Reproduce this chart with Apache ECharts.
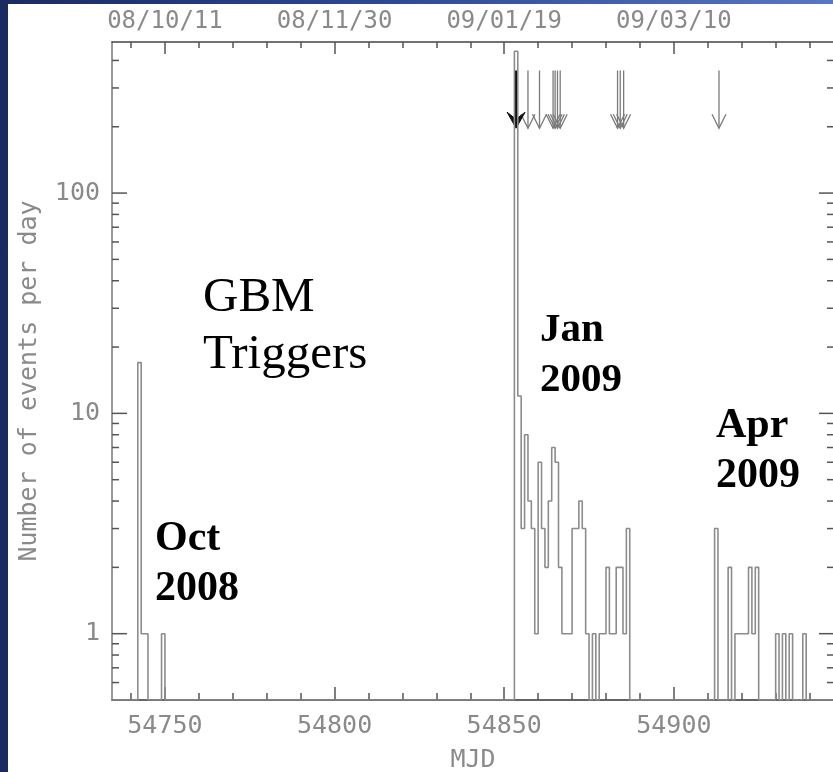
<!DOCTYPE html>
<html>
<head>
<meta charset="utf-8">
<script src="https://cdn.jsdelivr.net/npm/echarts@6/dist/echarts.min.js"></script>
<style>
  html, body { margin: 0; padding: 0; }
  body {
    width: 833px; height: 772px; position: relative; overflow: hidden;
    background: linear-gradient(90deg, #1b2a63 0%, #2c4792 45%, #5676c6 100%);
  }
  #paper { position: absolute; left: 8px; top: 4px; right: 0; bottom: 0; background: #fff; }
  #chart { position: absolute; left: 0; top: 0; width: 833px; height: 772px; }
</style>
</head>
<body>
<div id="paper"></div>
<div id="chart"></div>
<script>
// Daily GBM trigger counts: MJD of the day and number of events; days not listed had none.
const eventDays = [
  54742, 54743, 54744, 54749,
  54853, 54854, 54855, 54856, 54857, 54858, 54859, 54860, 54861, 54862,
  54863, 54864, 54865, 54866, 54867, 54868, 54869, 54870, 54871, 54872,
  54873, 54874, 54876, 54878, 54879, 54880, 54881, 54882, 54883,
  54884, 54885, 54886,
  54912, 54916, 54918, 54919, 54920, 54921, 54922, 54923, 54924,
  54930, 54932, 54934, 54938
];
const eventCounts = [
  17, 1, 1, 1,
  440, 12, 3, 8, 4, 3, 1, 6, 3, 2,
  4, 7, 6, 2, 1, 1, 1, 3, 3, 4,
  3, 1, 1, 1, 1, 2, 1, 1, 2,
  2, 1, 3,
  3, 2, 1, 1, 1, 1, 2, 1, 2,
  1, 1, 1, 1
];

// Times of the bursts marked with arrows (MJD); the first is drawn bold.
const boldArrowDays = [54853.5];
const arrowDays = [54857.0, 54860.4, 54864.4, 54865.0, 54865.7, 54866.5,
                   54883.4, 54884.2, 54885.2, 54913.3];

// Axis ticks and labels
const xLabelValues = [54750, 54800, 54850, 54900];
const dateLabels   = ['08/10/11', '08/11/30', '09/01/19', '09/03/10'];
const xMajorTicks  = [54750, 54800, 54850, 54900];
const xMinorTicks  = [54740, 54760, 54770, 54780, 54790, 54810, 54820, 54830, 54840,
                      54860, 54870, 54880, 54890, 54910, 54920, 54930, 54940];
const yLabelValues = [1, 10, 100];
const yMinorTicks  = [0.6, 0.7, 0.8, 0.9, 2, 3, 4, 5, 6, 7, 8, 9,
                      20, 30, 40, 50, 60, 70, 80, 90, 200, 300, 400];

// Plot ranges
const X_MIN = 54734.4, X_MAX = 54947.2;
const Y_MIN = 0.5, Y_MAX = 485;
const FIRST_DAY = 54734, LAST_DAY = 54947;
const ARROW_TOP = 360, ARROW_TIP = 197;

// Build the one-day histogram; empty days sit on the bottom of the log axis.
const countByDay = {};
eventDays.forEach((d, i) => { countByDay[d] = eventCounts[i]; });
const histData = [];
for (let d = FIRST_DAY; d <= LAST_DAY; d++) {
  histData.push([d, countByDay[d] ? countByDay[d] : Y_MIN]);
}
histData.push([LAST_DAY + 1, Y_MIN]);

const AXIS_COLOR = '#555';
const LABEL_COLOR = '#8a8a8a';
const MONO = '"DejaVu Sans Mono", monospace';

function xAxisDef(position, opts) {
  return Object.assign({
    type: 'value', gridIndex: 0, position: position, min: X_MIN, max: X_MAX,
    splitLine: { show: false },
    axisLine: { show: false },
    axisLabel: { show: false },
    axisTick: { show: false }
  }, opts);
}

const chart = echarts.init(document.getElementById('chart'), null, { renderer: 'canvas' });

chart.setOption({
  animation: false,
  backgroundColor: 'transparent',
  grid: { left: 112, top: 42, width: 722, height: 658, containLabel: false, outerBoundsMode: 'none' },
  xAxis: [
    xAxisDef('bottom', {
      axisLine: { show: true, onZero: false, lineStyle: { color: '#333', width: 1.5 } },
      axisTick: { show: true, inside: true, length: 13, customValues: xMajorTicks,
                  lineStyle: { color: AXIS_COLOR, width: 1.5 } },
      axisLabel: { show: true, customValues: xLabelValues, margin: 14,
                   color: LABEL_COLOR, fontFamily: MONO, fontSize: 25,
                   formatter: v => String(v) },
      name: 'MJD', nameLocation: 'middle', nameGap: 48,
      nameTextStyle: { color: LABEL_COLOR, fontFamily: MONO, fontSize: 25 }
    }),
    xAxisDef('bottom', {
      axisTick: { show: true, inside: true, length: 7, customValues: xMinorTicks,
                  lineStyle: { color: AXIS_COLOR, width: 1.5 } }
    }),
    xAxisDef('top', {
      axisLine: { show: true, onZero: false, lineStyle: { color: '#444', width: 1.5 } },
      axisTick: { show: true, inside: true, length: 12, customValues: xMajorTicks,
                  lineStyle: { color: AXIS_COLOR, width: 1.5 } },
      axisLabel: { show: true, customValues: xLabelValues, margin: 8,
                   color: LABEL_COLOR, fontFamily: MONO, fontSize: 24,
                   formatter: v => dateLabels[xLabelValues.indexOf(v)] }
    }),
    xAxisDef('top', {
      axisTick: { show: true, inside: true, length: 6, customValues: xMinorTicks,
                  lineStyle: { color: AXIS_COLOR, width: 1.5 } }
    })
  ],
  yAxis: {
    type: 'log', logBase: 10, min: Y_MIN, max: Y_MAX,
    splitLine: { show: false },
    axisLine: { show: true, lineStyle: { color: '#777', width: 1.5 } },
    axisTick: { show: false },
    axisLabel: {
      color: LABEL_COLOR, fontFamily: MONO, fontSize: 25, margin: 12,
      formatter: v => (yLabelValues.indexOf(+Number(v).toPrecision(6)) >= 0 ? String(+Number(v).toPrecision(6)) : '')
    },
    name: 'Number of events per day', nameLocation: 'middle', nameGap: 70, nameRotate: 90,
    nameTextStyle: { color: LABEL_COLOR, fontFamily: MONO, fontSize: 25, padding: [0, 20, 0, 0] }
  },
  series: [
    {
      // events per day
      type: 'line', step: 'end', data: histData, symbol: 'none',
      xAxisIndex: 0, yAxisIndex: 0,
      lineStyle: { color: '#8c8c8c', width: 1.6 }
    },
    {
      // log-axis ticks on the left and right frame
      type: 'custom', xAxisIndex: 0, yAxisIndex: 0, silent: true, clip: false,
      data: yLabelValues.map(v => [v, 1]).concat(yMinorTicks.map(v => [v, 0])),
      renderItem: function (params, api) {
        const v = api.value(0);
        const len = api.value(1) ? 15 : 7;
        const l = api.coord([X_MIN, v]);
        const r = api.coord([X_MAX, v]);
        const st = { stroke: AXIS_COLOR, lineWidth: 1.5 };
        return {
          type: 'group', children: [
            { type: 'line', shape: { x1: l[0], y1: l[1], x2: l[0] + len, y2: l[1] }, style: st },
            { type: 'line', shape: { x1: r[0] - len, y1: r[1], x2: r[0], y2: r[1] }, style: st }
          ]
        };
      }
    },
    {
      // burst markers
      type: 'custom', xAxisIndex: 0, yAxisIndex: 0, silent: true, clip: false,
      data: arrowDays.map(d => [d]),
      renderItem: function (params, api) {
        const d = api.value(0);
        const top = api.coord([d, ARROW_TOP]);
        const tip = api.coord([d, ARROW_TIP]);
        const st = { stroke: '#7a7a7a', lineWidth: 1.3, fill: null };
        return {
          type: 'group', children: [
            { type: 'line', shape: { x1: top[0], y1: top[1], x2: tip[0], y2: tip[1] }, style: st },
            { type: 'polyline', shape: { points: [[tip[0] - 7, tip[1] - 14], [tip[0], tip[1]], [tip[0] + 7, tip[1] - 14]] }, style: st }
          ]
        };
      }
    },
    {
      // bold marker for the brightest burst
      type: 'custom', xAxisIndex: 0, yAxisIndex: 0, silent: true, clip: false,
      data: boldArrowDays.map(d => [d]),
      renderItem: function (params, api) {
        const d = api.value(0);
        const top = api.coord([d, ARROW_TOP]);
        const tip = api.coord([d, ARROW_TIP]);
        return {
          type: 'group', children: [
            { type: 'line', shape: { x1: top[0], y1: top[1], x2: tip[0], y2: tip[1] - 6 },
              style: { stroke: '#111', lineWidth: 3.5 } },
            { type: 'polygon', shape: { points: [[tip[0] - 9, tip[1] - 16], [tip[0], tip[1] - 9], [tip[0] + 9, tip[1] - 16], [tip[0], tip[1]]] },
              style: { fill: '#111', stroke: '#111', lineWidth: 1 } }
          ]
        };
      }
    }
  ],
  graphic: [
    { type: 'text', x: 203, y: 270, style: { text: 'GBM\nTriggers', font: '49px "Liberation Serif", serif', lineHeight: 57, fill: '#000', verticalAlign: 'top' } },
    { type: 'text', x: 540, y: 305, style: { text: 'Jan\n2009', font: 'bold 41px "Liberation Serif", serif', lineHeight: 50, fill: '#000', verticalAlign: 'top' } },
    { type: 'text', x: 716, y: 401, style: { text: 'Apr\n2009', font: 'bold 42px "Liberation Serif", serif', lineHeight: 50, fill: '#000', verticalAlign: 'top' } },
    { type: 'text', x: 155, y: 514, style: { text: 'Oct\n2008', font: 'bold 42px "Liberation Serif", serif', lineHeight: 50, fill: '#000', verticalAlign: 'top' } }
  ]
});
</script>
</body>
</html>
